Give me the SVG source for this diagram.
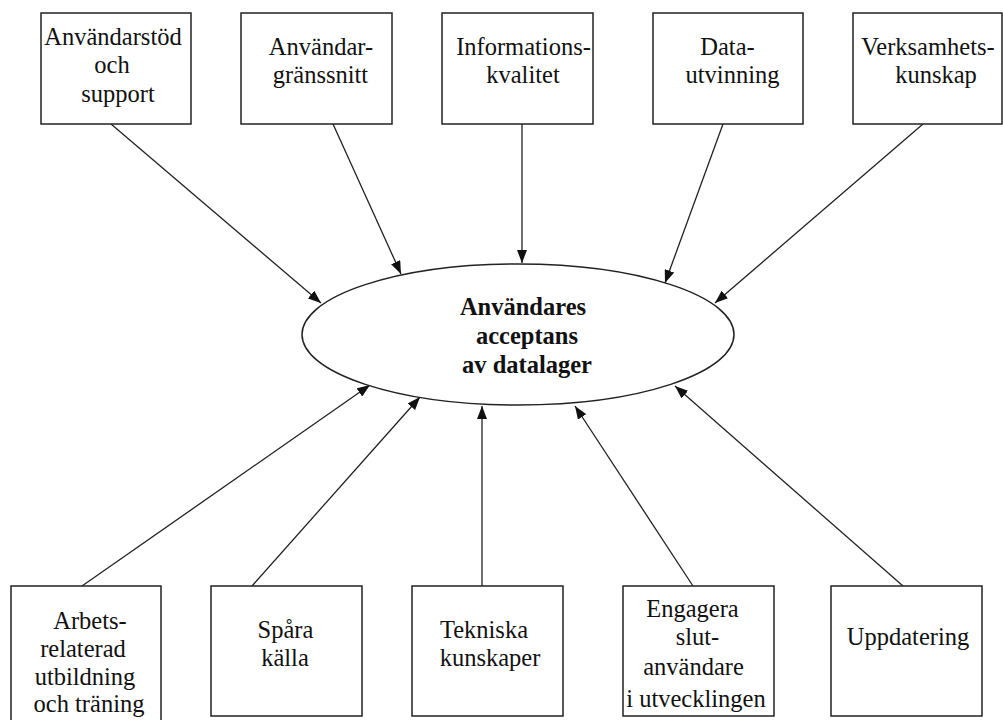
<svg xmlns="http://www.w3.org/2000/svg" width="1003" height="720" viewBox="0 0 1003 720">
<style>
.box{fill:#fff;stroke:#222;stroke-width:1.5}
.t{font-family:"Liberation Serif","Times New Roman",serif;font-size:24.5px;fill:#111;text-anchor:middle}
.b{font-weight:bold}
.c{stroke:#222;stroke-width:1.3;fill:none;marker-end:url(#ah)}
</style>
<defs>
<marker id="ah" markerUnits="userSpaceOnUse" markerWidth="14" markerHeight="10" refX="13" refY="5" orient="auto">
<path d="M0,0 L13,5 L0,10 Z" fill="#111"/>
</marker>
</defs>
<rect width="1003" height="720" fill="#fff"/>
<g id="connectors">
<line class="c" x1="111" y1="124" x2="321" y2="303"/>
<line class="c" x1="333" y1="124" x2="401" y2="274"/>
<line class="c" x1="522" y1="124" x2="522" y2="263"/>
<line class="c" x1="723" y1="124" x2="665" y2="283"/>
<line class="c" x1="923" y1="124" x2="715" y2="303"/>
<line class="c" x1="82" y1="586" x2="370" y2="385"/>
<line class="c" x1="252" y1="586" x2="420" y2="397"/>
<line class="c" x1="482" y1="586" x2="482" y2="406"/>
<line class="c" x1="693" y1="586" x2="575" y2="406"/>
<line class="c" x1="903" y1="586" x2="675" y2="386"/>
</g>
<g id="center">
<ellipse cx="518" cy="334.5" rx="216" ry="70.5" fill="#fff" stroke="#222" stroke-width="1.5"/>
<text class="t b" x="523" y="315">Användares</text>
<text class="t b" x="527" y="344">acceptans</text>
<text class="t b" x="527" y="373">av datalager</text>
</g>
<g id="n1">
<rect class="box" x="41" y="13" width="150" height="111"/>
<text class="t" x="113" y="45">Användarstöd</text>
<text class="t" x="112" y="73">och</text>
<text class="t" x="118" y="102">support</text>
</g>
<g id="n2">
<rect class="box" x="241" y="13" width="151" height="111"/>
<text class="t" x="321" y="55">Användar-</text>
<text class="t" x="320.5" y="83">gränssnitt</text>
</g>
<g id="n3">
<rect class="box" x="442" y="13" width="151" height="111"/>
<text class="t" x="523.5" y="55">Informations-</text>
<text class="t" x="523" y="83">kvalitet</text>
</g>
<g id="n4">
<rect class="box" x="653" y="13" width="150" height="111"/>
<text class="t" x="727.5" y="55">Data-</text>
<text class="t" x="732.5" y="83">utvinning</text>
</g>
<g id="n5">
<rect class="box" x="853" y="13" width="149" height="111"/>
<text class="t" x="928" y="55">Verksamhets-</text>
<text class="t" x="936" y="83">kunskap</text>
</g>
<g id="n6">
<rect class="box" x="11" y="586" width="150" height="140"/>
<text class="t" x="90" y="629">Arbets-</text>
<text class="t" x="83" y="657">relaterad</text>
<text class="t" x="85" y="685">utbildning</text>
<text class="t" x="89" y="712">och träning</text>
</g>
<g id="n7">
<rect class="box" x="211" y="586" width="151" height="130"/>
<text class="t" x="285.5" y="638">Spåra</text>
<text class="t" x="285" y="666">källa</text>
</g>
<g id="n8">
<rect class="box" x="412" y="586" width="151" height="130"/>
<text class="t" x="484" y="638">Tekniska</text>
<text class="t" x="490" y="666">kunskaper</text>
</g>
<g id="n9">
<rect class="box" x="623" y="586" width="151" height="130"/>
<text class="t" x="692.5" y="617">Engagera</text>
<text class="t" x="697.5" y="645">slut-</text>
<text class="t" x="693.5" y="675">användare</text>
<text class="t" x="696" y="707">i utvecklingen</text>
</g>
<g id="n10">
<rect class="box" x="831" y="586" width="151" height="130"/>
<text class="t" x="908" y="645">Uppdatering</text>
</g>
</svg>
